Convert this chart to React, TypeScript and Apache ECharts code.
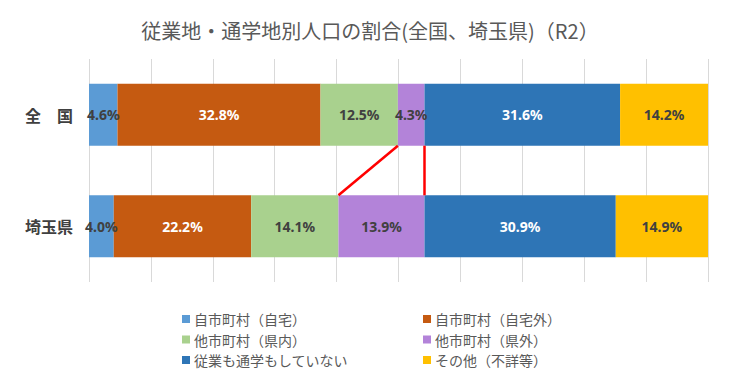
import React, { useEffect, useRef } from "react";
import * as echarts from "echarts";

const categories = ["全　国", "埼玉県"];
const seriesNames = [
  "自市町村（自宅）",
  "自市町村（自宅外）",
  "他市町村（県内）",
  "他市町村（県外）",
  "従業も通学もしていない",
  "その他（不詳等）",
];
const zenkoku = [4.6, 32.8, 12.5, 4.3, 31.6, 14.2];
const saitama = [4.0, 22.2, 14.1, 13.9, 30.9, 14.9];
const colors = ["#5B9BD5", "#C55A11", "#A9D18E", "#B383D9", "#2E75B6", "#FFC000"];
const labelColors = ["#404040", "#FFFFFF", "#404040", "#404040", "#FFFFFF", "#404040"];
// connector lines: [x on 全国 bar bottom, x on 埼玉県 bar top]
const connectors = [
  [49.9, 40.3],
  [54.2, 54.2],
];
const xTicks = [0, 10, 20, 30, 40, 50, 60, 70, 80, 90, 100];

const BAR_RATIO = 0.555;

export default function App() {
  const ref = useRef<HTMLDivElement>(null);
  useEffect(() => {
    if (!ref.current) return;
    const chart = echarts.init(ref.current, undefined, { renderer: "svg" });
    const font = "'Noto Sans CJK JP', 'Noto Sans', sans-serif";
    const barSeries = seriesNames.map((name, i) => ({
      name,
      type: "bar",
      stack: "total",
      barWidth: BAR_RATIO * 100 + "%",
      itemStyle: { color: colors[i] },
      label: {
        show: true,
        position: "inside",
        formatter: (p: any) => Number(p.value).toFixed(1) + "%",
        color: labelColors[i],
        fontSize: 14,
        fontWeight: "bold",
        fontFamily: "'Noto Sans', sans-serif",
      },
      data: [zenkoku[i], saitama[i]],
    }));
    const lineSeries = {
      type: "custom",
      silent: true,
      z: 5,
      encode: { x: [0, 1], y: 2 },
      data: connectors.map((c) => [c[0], c[1], 0]),
      renderItem: (params: any, api: any) => {
        const band = api.size([0, 1])[1];
        const half = (band * BAR_RATIO) / 2;
        const p1 = api.coord([api.value(0), 0]);
        const p2 = api.coord([api.value(1), 1]);
        return {
          type: "line",
          shape: { x1: p1[0], y1: p1[1] + half, x2: p2[0], y2: p2[1] - half },
          style: { stroke: "#FF0000", lineWidth: 2.5 },
        };
      },
    };
    const legendCommon = {
      orient: "vertical",
      icon: "rect",
      itemWidth: 8,
      itemHeight: 8,
      itemGap: 4.5,
      textStyle: {
        fontSize: 14,
        lineHeight: 16,
        color: "#595959",
        fontFamily: font,
        padding: [0, 0, 0, -1],
      },
      selectedMode: false,
    };
    chart.setOption({
      animation: false,
      title: {
        text: "従業地・通学地別人口の割合(全国、埼玉県)（R2）",
        left: "center",
        top: 15,
        textStyle: { fontSize: 20, fontWeight: "normal", color: "#595959", fontFamily: font },
      },
      legend: [
        { ...legendCommon, left: 177, top: 306, data: [seriesNames[0], seriesNames[2], seriesNames[4]] },
        { ...legendCommon, left: 418, top: 306, data: [seriesNames[1], seriesNames[3], seriesNames[5]] },
      ],
      grid: { left: 89, right: 32, top: 59, bottom: 108, containLabel: false },
      xAxis: {
        type: "value",
        min: xTicks[0],
        max: xTicks[xTicks.length - 1],
        interval: xTicks[1] - xTicks[0],
        axisLabel: { show: false },
        axisLine: { show: false },
        axisTick: { show: false },
        splitLine: { show: true, lineStyle: { color: "#D9D9D9", width: 1 } },
      },
      yAxis: {
        type: "category",
        inverse: true,
        data: categories,
        axisLine: { show: false },
        axisTick: { show: false },
        axisLabel: {
          fontSize: 16,
          fontWeight: "bold",
          color: "#404040",
          margin: 16,
          fontFamily: font,
        },
      },
      series: [...barSeries, lineSeries],
    });
    return () => chart.dispose();
  }, []);
  return (
    <div
      ref={ref}
      style={{ position: "fixed", left: 0, top: 0, width: 740, height: 390, background: "#fff" }}
    />
  );
}
